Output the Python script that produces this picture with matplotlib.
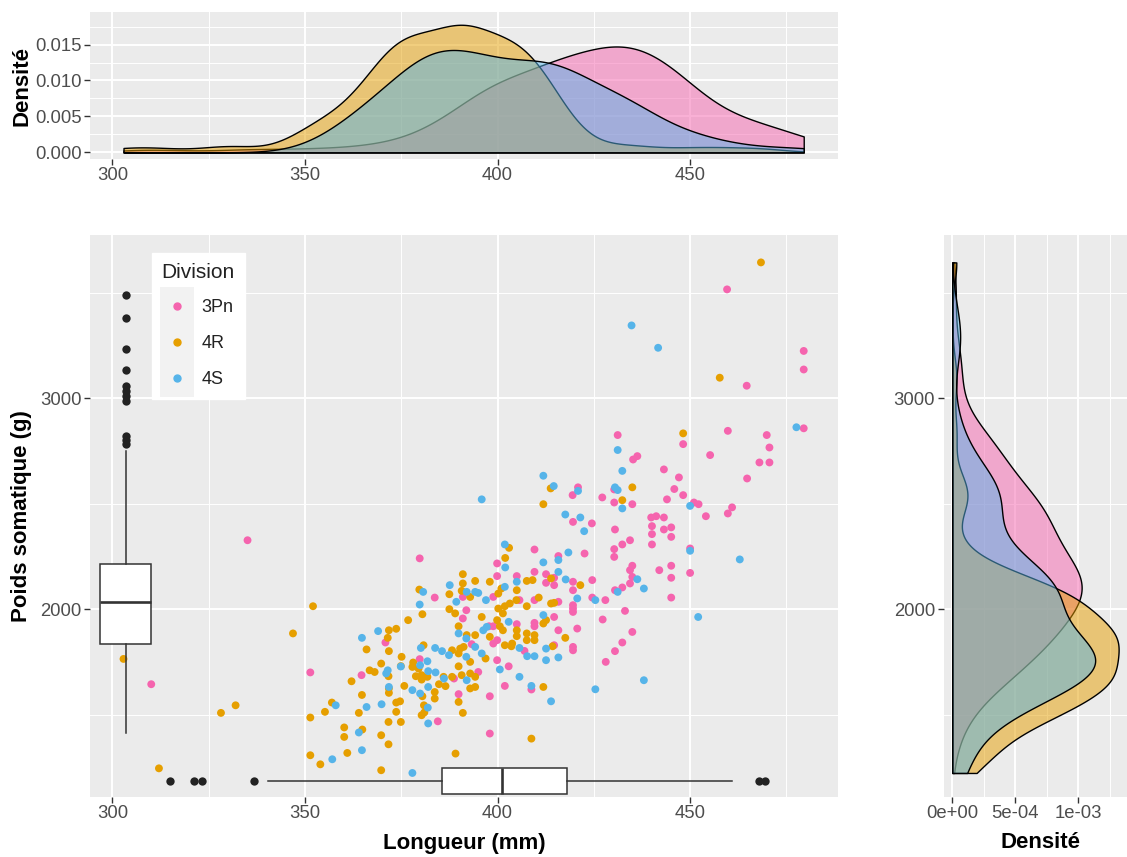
import numpy as np
import matplotlib
matplotlib.use("Agg")
import matplotlib.pyplot as plt
from matplotlib.legend_handler import HandlerBase
from matplotlib.patches import Rectangle
from matplotlib.lines import Line2D

plt.rcParams['font.family'] = ['Liberation Sans', 'DejaVu Sans']

# ---------------- data ----------------
divisions = ["3Pn", "4R", "4S"]
colors = {"3Pn": "#F564AE", "4R": "#E69F00", "4S": "#56B4E9"}

pn_x = [379.8, 383.7, 370.9, 379.8, 364.7, 351.4, 388.7, 384.5,
        409.6, 422.6, 415.8, 399.9, 399.9, 405.0, 409.6, 412.6, 414.7, 412.6, 414.7, 419.6,
        419.6, 424.6, 391.0, 398.9, 405.7, 409.6, 415.8, 424.6, 428.0, 419.6, 419.6, 419.6,
        391.0, 391.9, 427.3, 414.7, 409.6, 409.6, 405.0, 397.8, 398.9, 415.8, 420.7, 414.7,
        419.6, 419.6, 393.3, 398.9, 399.9, 407.0, 395.0, 399.9, 402.9, 401.9, 398.0, 408.8,
        389.9, 398.0,
        420.9, 419.5, 427.2, 419.6, 424.5,
        431.2, 448.2, 459.8, 469.9, 470.6, 468.0, 470.6, 464.8, 455.2, 435.2, 436.3, 443.2,
        447.1, 445.9, 448.2, 444.0, 430.3, 430.3, 435.0, 451.0, 452.2, 454.1, 459.8, 460.9,
        439.9, 441.2, 443.2, 440.1, 440.1, 443.2, 445.1, 445.1, 440.1, 430.5, 432.4, 434.4,
        430.3, 430.3, 450.0, 435.0, 434.4, 442.0, 445.1, 445.1, 450.0, 435.0, 434.4, 432.4,
        430.5, 445.1, 433.1, 435.0, 432.4, 430.5, 428.1,
        459.6, 464.7, 479.5, 479.5, 479.5, 310.1, 335.1]
pn_y = [2241, 2055, 1842, 1763, 1687, 1700, 1671, 1468,
        2283, 2264, 2252, 2217, 2157, 2157, 2177, 2166, 2149, 2125, 2114, 2130,
        2090, 2138, 2058, 2058, 2043, 2043, 2035, 2055, 2043, 2019, 2003, 1987,
        1956, 1995, 1951, 1963, 1935, 1919, 1929, 1919, 1919, 1900, 1908, 1829,
        1821, 1805, 1834, 1837, 1853, 1802, 1702, 1758, 1729, 1636, 1587, 1619,
        1597, 1410,
        2578, 2541, 2530, 2414, 2407,
        2826, 2783, 2846, 2826, 2767, 2696, 2696, 2620, 2731, 2710, 2726, 2663,
        2625, 2570, 2541, 2521, 2568, 2506, 2498, 2506, 2498, 2441, 2454, 2483,
        2435, 2441, 2435, 2394, 2356, 2378, 2388, 2343, 2307, 2378, 2307, 2327,
        2285, 2248, 2288, 2206, 2185, 2185, 2206, 2149, 2172, 2153, 2122, 2103,
        2090, 2055, 1992, 1892, 1842, 1801, 1750,
        3517, 3060, 3225, 3137, 2858, 1644, 2327]

r_x = [379.7, 387.5, 380.5, 352.1, 387.5, 376.8, 346.9, 371.8, 373.7, 371.5, 366.0, 371.8,
       375.1, 380.8, 388.2, 378.1, 377.9, 374.9, 369.8, 366.8, 368.1, 362.1, 371.7, 375.8,
       378.8, 380.3, 381.8, 384.8, 386.5, 380.5, 383.7, 383.7, 371.8, 371.8, 364.8, 357.0,
       355.2, 351.4, 364.0, 373.7, 374.7, 373.7, 371.7, 374.9, 360.2, 360.2, 364.9, 369.8,
       371.7, 361.0, 351.4, 354.0, 369.8, 380.3, 380.9, 381.0, 389.1, 379.5, 380.3,
       403.0, 402.0, 391.0, 394.2, 398.0, 391.0, 407.6, 409.1, 413.9, 421.5, 392.9, 390.7,
       401.0, 400.2, 405.0, 404.9, 410.7, 413.9, 414.7, 389.0, 389.9, 395.9, 400.2, 401.9,
       403.2, 401.4, 399.9, 407.6, 412.6, 411.9, 400.6, 401.4, 405.0, 405.0, 407.6, 409.6,
       409.6, 407.6, 417.6, 414.3, 392.0, 394.2, 398.0, 401.9, 403.6, 403.8, 390.3, 391.2,
       389.9, 392.9, 396.9, 389.9, 386.0, 388.2, 390.7, 392.9, 394.2, 392.9, 394.2, 411.9,
       389.9, 391.0, 408.8,
       413.8, 411.9, 448.2, 435.0, 432.4, 468.4, 457.7,
       302.9, 312.1, 328.2, 332.0]
r_y = [2093, 2071, 1976, 2014, 2000, 1948, 1885, 1900, 1907, 1864, 1809, 1801,
       1774, 1829, 1805, 1747, 1726, 1730, 1742, 1710, 1702, 1658, 1682, 1636,
       1682, 1687, 1679, 1644, 1635, 1587, 1607, 1576, 1624, 1603, 1593, 1557,
       1513, 1486, 1508, 1557, 1563, 1513, 1465, 1465, 1439, 1394, 1429, 1402,
       1359, 1318, 1307, 1264, 1236, 1497, 1544, 1510, 1315, 1718, 1666,
       2291, 2243, 2166, 2134, 2130, 2122, 2134, 2138, 2146, 2114, 2058, 2087,
       2098, 2074, 2090, 2043, 2055, 2027, 2030, 1980, 1919, 1963, 2003, 2014,
       2027, 1980, 1948, 2014, 1948, 1932, 1919, 1900, 1900, 1872, 1885, 1877,
       1853, 1853, 1864, 1824, 1877, 1877, 1869, 1829, 1824, 1837, 1813, 1821,
       1790, 1750, 1766, 1729, 1679, 1679, 1687, 1695, 1679, 1624, 1631, 1631,
       1560, 1508, 1386,
       2573, 2498, 2834, 2578, 2517, 3645, 3098,
       1764, 1245, 1508, 1544]

s_x = [380.7, 387.6, 379.8, 389.3, 369.0, 364.8, 380.1, 383.8, 385.6, 387.4, 381.8, 379.9,
       374.9, 371.5, 371.1, 382.0, 383.9, 386.1, 382.0, 377.9, 379.9, 371.8, 358.0, 366.0,
       369.9, 364.0, 364.8, 357.1, 377.9, 381.9, 382.0,
       401.9, 418.4, 415.8, 411.9, 402.0, 415.8, 405.0, 417.7, 392.0, 394.2, 395.0, 397.0,
       401.9, 420.7, 425.4, 389.9, 411.9, 402.9, 396.3, 397.2, 412.6, 391.9, 394.2, 405.7,
       407.7, 409.6, 412.6, 415.8, 391.9, 395.9, 400.6, 405.7, 392.0, 408.8, 425.4, 413.9,
       395.9, 411.9, 414.6, 420.9, 417.6, 421.5, 422.5,
       431.2, 477.6, 432.4, 430.5, 431.2, 432.4, 450.0, 450.0, 462.9, 436.3, 438.0, 431.2,
       452.1, 438.0, 434.8, 441.7]
s_y = [2082, 2114, 2022, 2035, 1896, 1864, 1816, 1816, 1801, 1782, 1753, 1734,
       1728, 1710, 1695, 1706, 1700, 1671, 1631, 1616, 1600, 1631, 1544, 1536,
       1549, 1415, 1331, 1288, 1223, 1533, 1458,
       2307, 2269, 2233, 2222, 2198, 2177, 2130, 2141, 2082, 2082, 2077, 2043,
       2106, 2051, 2043, 1885, 1972, 1940, 1900, 1916, 1813, 1861, 1821, 1816,
       1777, 1777, 1758, 1771, 1774, 1790, 1714, 1679, 1663, 1636, 1620, 1563,
       2521, 2633, 2584, 2561, 2449, 2435, 2370,
       2755, 2863, 2656, 2578, 2565, 2478, 2490, 2277, 2236, 2142, 2098, 2082,
       1963, 1663, 3346, 3240]

data_x = {"3Pn": pn_x, "4R": r_x, "4S": s_x}
data_y = {"3Pn": pn_y, "4R": r_y, "4S": s_y}

# boxplot summaries as drawn in the picture
box_weight = dict(med=2032, q1=1834, q3=2214, whislo=1413, whishi=2750,
                  fliers=[3490, 3383, 3234, 3136, 3060, 3036, 3013, 2987, 2821, 2802, 2783])
box_weight_pos, box_weight_w = 303.5, 13.2
box_length = dict(med=401.1, q1=385.6, q3=418.0, whislo=340.3, whishi=461.0,
                  fliers=[314.9, 321.1, 323.2, 336.8, 467.8, 469.4])
box_length_pos, box_length_w = 1186, 122

# ---------------- helpers ----------------
def kde(values, grid):
    v = np.asarray(values, float)
    n = len(v)
    sd = v.std(ddof=1)
    q75, q25 = np.percentile(v, [75, 25])
    bw = 0.9 * min(sd, (q75 - q25) / 1.34) * n ** -0.2
    z = (grid[:, None] - v[None, :]) / bw
    return np.exp(-0.5 * z * z).sum(1) / (n * bw * np.sqrt(2 * np.pi))

W, H = 1127, 857
fig = plt.figure(figsize=(W / 100, H / 100), dpi=100)

def frame(l, t, r, b):
    return [l / W, 1 - b / H, (r - l) / W, (b - t) / H]

ax_top = fig.add_axes(frame(90, 12, 838, 159))
ax = fig.add_axes(frame(90, 235, 838, 797))
ax_r = fig.add_axes(frame(943.5, 235, 1137.7, 797))

def style(a):
    a.set_facecolor('#EBEBEB')
    for s in a.spines.values():
        s.set_visible(False)
    a.grid(which='major', color='white', lw=1.4)
    a.grid(which='minor', color='white', lw=0.7)
    a.set_axisbelow(True)
    a.tick_params(which='major', length=4, width=1, color='#333333',
                  labelcolor='#4D4D4D', labelsize=13.3, pad=2)
    a.tick_params(which='minor', length=0)

for a in (ax_top, ax, ax_r):
    style(a)

xlim = (294.2, 488.4)
ylim = (1109, 3775)
xmaj, xmin_ = [300, 350, 400, 450], [325, 375, 425, 475]
ymaj, ymin_ = [2000, 3000], [1500, 2500, 3500]

# ---------------- main scatter ----------------
for d in divisions:
    ax.scatter(data_x[d], data_y[d], s=32, color=colors[d], edgecolors='none',
               zorder=3, label=d)

bprops = dict(patch_artist=True, showcaps=False,
              boxprops=dict(facecolor='white', edgecolor='#333333', lw=1.1),
              whiskerprops=dict(color='#333333', lw=1.1),
              medianprops=dict(color='#333333', lw=1.9),
              flierprops=dict(marker='o', markerfacecolor='#222222',
                              markeredgecolor='none', markersize=6.0))
ax.bxp([box_weight], positions=[box_weight_pos], widths=box_weight_w,
       orientation='vertical', manage_ticks=False, zorder=4, **bprops)
ax.bxp([box_length], positions=[box_length_pos], widths=box_length_w,
       orientation='horizontal', manage_ticks=False, zorder=4, **bprops)

ax.set_xlim(*xlim)
ax.set_ylim(*ylim)
ax.set_xticks(xmaj)
ax.set_xticks(xmin_, minor=True)
ax.set_yticks(ymaj)
ax.set_yticks(ymin_, minor=True)
ax.set_xlabel('Longueur (mm)', fontsize=16, fontweight='bold')
ax.set_ylabel('Poids somatique (g)', fontsize=16, fontweight='bold')
ax.xaxis.set_label_coords(0.5, (797 - 843) / 562)
ax.xaxis.label.set_verticalalignment('center')
ax.yaxis.set_label_coords((22 - 90) / 748, 0.5)
ax.yaxis.label.set_verticalalignment('center')

# legend with grey key squares
class KeyHandler(HandlerBase):
    def create_artists(self, legend, orig, xd, yd, w, h, fs, trans):
        r = Rectangle((-xd - 1, -yd - 6), w + 2, h + 12, facecolor='#F2F2F2',
                      edgecolor='none', transform=trans)
        m = Line2D([w / 2 - xd], [h / 2 - yd], marker='o', ls='none', ms=5,
                   color=orig.get_facecolor()[0], transform=trans)
        return [r, m]

handles, labels = ax.get_legend_handles_labels()
leg = ax.legend(handles, labels, title='Division', loc='upper left',
                bbox_to_anchor=((151.7 - 90) / 748, (797 - 253) / 562),
                frameon=True, fancybox=False, framealpha=1, edgecolor='white',
                facecolor='white', fontsize=13, title_fontsize=15,
                handler_map={type(handles[0]): KeyHandler()},
                handlelength=1.7, handleheight=1.5, labelspacing=0.75,
                handletextpad=0.5, borderpad=0.55, borderaxespad=0)
leg._legend_box.align = 'left'
leg.get_title().set_color('#222222')
for t in leg.get_texts():
    t.set_color('#222222')
leg.set_zorder(6)

# ---------------- top density ----------------
all_x = np.concatenate([data_x[d] for d in divisions])
gx = np.linspace(all_x.min(), all_x.max(), 512)
for d in divisions:
    dens = kde(data_x[d], gx)
    ax_top.fill_between(gx, 0, dens, facecolor=colors[d],
                        edgecolor='black', lw=1.0)
for coll in ax_top.collections:
    fc = coll.get_facecolor()[0]
    coll.set_facecolor((fc[0], fc[1], fc[2], 0.5))
ax_top.set_xlim(*xlim)
ax_top.set_ylim(-0.00093, 0.01953)
ax_top.set_xticks(xmaj)
ax_top.set_xticks(xmin_, minor=True)
ax_top.set_yticks([0, 0.005, 0.010, 0.015])
ax_top.set_yticklabels(['0.000', '0.005', '0.010', '0.015'])
ax_top.set_yticks([0.0025, 0.0075, 0.0125, 0.0175], minor=True)
ax_top.set_ylabel('Densité', fontsize=16, fontweight='bold')
ax_top.yaxis.set_label_coords((22 - 90) / 748, 0.5)
ax_top.yaxis.label.set_verticalalignment('center')

# ---------------- right density ----------------
all_y = np.concatenate([data_y[d] for d in divisions]).astype(float)
gy = np.linspace(all_y.min(), all_y.max(), 512)
for d in divisions:
    dens = kde(data_y[d], gy)
    ax_r.fill_betweenx(gy, 0, dens, facecolor=colors[d], edgecolor='black', lw=1.0)
for coll in ax_r.collections:
    fc = coll.get_facecolor()[0]
    coll.set_facecolor((fc[0], fc[1], fc[2], 0.5))
ax_r.set_ylim(*ylim)
ax_r.set_xlim(-0.00007, 0.00147)
ax_r.set_xticks([0, 0.0005, 0.001])
ax_r.set_xticklabels(['0e+00', '5e-04', '1e-03'])
ax_r.set_xticks([0.00025, 0.00075, 0.00125], minor=True)
ax_r.set_yticks(ymaj)
ax_r.set_yticks(ymin_, minor=True)
ax_r.set_xlabel('Densité', fontsize=16, fontweight='bold')
ax_r.xaxis.set_label_coords(0.5, (797 - 843) / 562)
ax_r.xaxis.label.set_verticalalignment('center')

fig.savefig('out.png', dpi=100, facecolor='white')
